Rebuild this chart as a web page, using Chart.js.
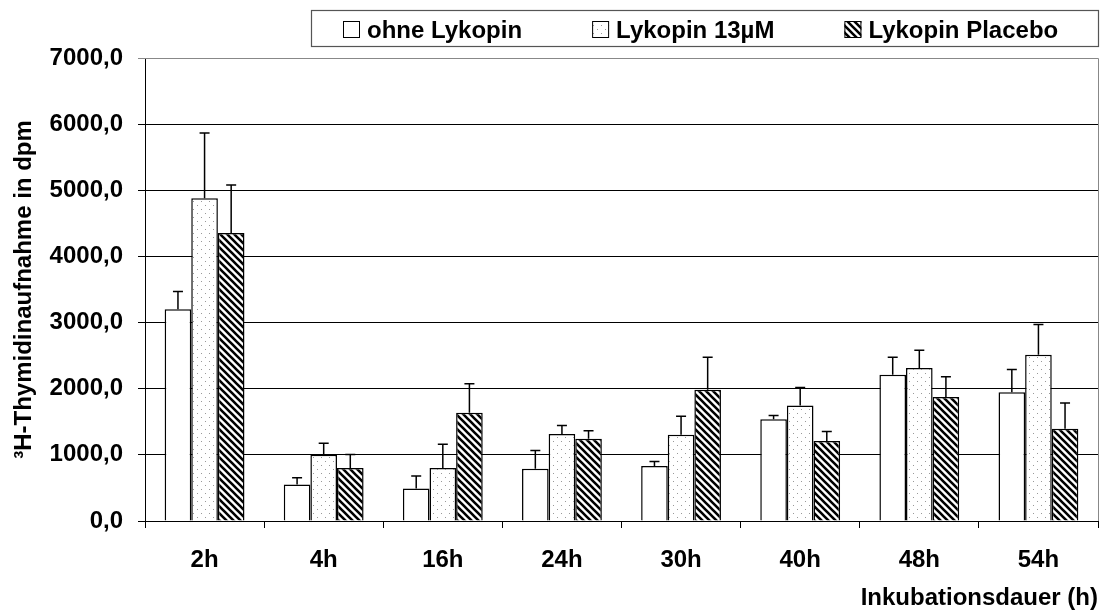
<!DOCTYPE html>
<html>
<head>
<meta charset="utf-8">
<script src="https://cdn.jsdelivr.net/npm/chart.js@4/dist/chart.umd.min.js"></script>
<style>
  html, body { margin: 0; padding: 0; background: #fff; }
  #wrap { width: 1111px; height: 613px; }
</style>
</head>
<body>
<div id="wrap"><canvas id="chart" width="1111" height="613"></canvas></div>
<script>
// data
const categories = ['2h', '4h', '16h', '24h', '30h', '40h', '48h', '54h'];
const seriesNames = ['ohne Lykopin', 'Lykopin 13µM', 'Lykopin Placebo'];
const ohneValues = [3200, 550, 490, 790, 830, 1540, 2210, 1945];
const ohneErr = [270, 105, 190, 275, 70, 55, 265, 345];
const lyk13Values = [4880, 1000, 800, 1315, 1305, 1745, 2315, 2515];
const lyk13Err = [985, 175, 360, 130, 280, 275, 265, 455];
const placeboValues = [4355, 800, 1635, 1245, 1985, 1210, 1875, 1395];
const placeboErr = [725, 205, 440, 120, 490, 145, 305, 390];
const yTicks = [0, 1000, 2000, 3000, 4000, 5000, 6000, 7000];

const FONT = "'Liberation Sans', Arial, sans-serif";
const SIZE = 24;

// fill patterns
function dotPattern() {
  const c = document.createElement('canvas');
  c.width = 8; c.height = 8;
  const g = c.getContext('2d');
  g.fillStyle = '#fff';
  g.fillRect(0, 0, 8, 8);
  g.fillStyle = '#999';
  g.fillRect(1, 1, 1, 1);
  g.fillRect(5, 5, 1, 1);
  return g.createPattern(c, 'repeat');
}

function stripePattern() {
  const s = 7;
  const c = document.createElement('canvas');
  c.width = s; c.height = s;
  const g = c.getContext('2d');
  g.fillStyle = '#fff';
  g.fillRect(0, 0, s, s);
  g.strokeStyle = '#000';
  g.lineWidth = 2.6;
  g.beginPath();
  g.moveTo(-1, -1); g.lineTo(s + 1, s + 1);
  g.moveTo(-1, s - 1); g.lineTo(1, s + 1);
  g.moveTo(s - 1, -1); g.lineTo(s + 1, 1);
  g.stroke();
  return g.createPattern(c, 'repeat');
}

// upward error bars from the bar tops
const errorBars = {
  id: 'errorBars',
  afterDatasetsDraw(chart) {
    const ctx = chart.ctx;
    const y = chart.scales.y;
    ctx.save();
    ctx.strokeStyle = '#000';
    ctx.lineWidth = 1.5;
    chart.data.datasets.forEach((ds, i) => {
      const meta = chart.getDatasetMeta(i);
      meta.data.forEach((bar, j) => {
        const top = y.getPixelForValue(ds.data[j] + ds.errors[j]);
        ctx.beginPath();
        ctx.moveTo(bar.x, bar.y);
        ctx.lineTo(bar.x, top);
        ctx.moveTo(bar.x - 5, top);
        ctx.lineTo(bar.x + 5, top);
        ctx.stroke();
      });
    });
    ctx.restore();
  }
};

// gray frame of the plot area
const plotFrame = {
  id: 'plotFrame',
  beforeDatasetsDraw(chart) {
    const { ctx, chartArea } = chart;
    ctx.save();
    ctx.strokeStyle = '#888';
    ctx.lineWidth = 1;
    ctx.beginPath();
    ctx.moveTo(chartArea.left, chartArea.top + 0.5);
    ctx.lineTo(chartArea.right + 0.5, chartArea.top + 0.5);
    ctx.lineTo(chartArea.right + 0.5, chartArea.bottom);
    ctx.stroke();
    ctx.restore();
  }
};

// boxed legend in the top right corner
const boxLegend = {
  id: 'boxLegend',
  afterDraw(chart) {
    const ctx = chart.ctx;
    const right = chart.chartArea.right;
    ctx.save();
    ctx.strokeStyle = '#555';
    ctx.lineWidth = 1.2;
    ctx.strokeRect(311.5, 10.5, Math.round(right - 311), 36);
    ctx.font = `bold ${SIZE}px ${FONT}`;
    ctx.textBaseline = 'alphabetic';
    let x = 343;
    chart.data.datasets.forEach((ds) => {
      ctx.fillStyle = ds.backgroundColor;
      ctx.fillRect(x, 21, 17, 17);
      ctx.strokeStyle = '#000';
      ctx.lineWidth = 1;
      ctx.strokeRect(x + 0.5, 21.5, 16, 16);
      ctx.fillStyle = '#000';
      ctx.fillText(ds.label, x + 24, 38);
      x += 24 + ctx.measureText(ds.label).width + 70;
    });
    ctx.restore();
  }
};

new Chart(document.getElementById('chart'), {
  type: 'bar',
  data: {
    labels: categories,
    datasets: [
      { label: seriesNames[0], data: ohneValues, errors: ohneErr, backgroundColor: '#fff' },
      { label: seriesNames[1], data: lyk13Values, errors: lyk13Err, backgroundColor: dotPattern() },
      { label: seriesNames[2], data: placeboValues, errors: placeboErr, backgroundColor: stripePattern() }
    ]
  },
  options: {
    responsive: false,
    animation: false,
    layout: { padding: { top: 58, right: 13, bottom: 0, left: 0 } },
    datasets: {
      bar: {
        borderColor: '#000',
        borderWidth: 1.5,
        borderSkipped: 'bottom',
        categoryPercentage: 0.67,
        barPercentage: 1
      }
    },
    plugins: {
      tooltip: { enabled: false },
      legend: { display: false }
    },
    scales: {
      x: {
        grid: { drawOnChartArea: false, color: '#000', tickLength: 7, offset: true },
        border: { color: '#000', width: 1 },
        ticks: { color: '#000', padding: 18, font: { family: FONT, size: SIZE, weight: 'bold' } },
        title: {
          display: true, text: 'Inkubationsdauer (h)', align: 'end', color: '#000',
          font: { family: FONT, size: SIZE, weight: 'bold' }, padding: { top: 3, bottom: 0 }
        },
        afterFit(scale) { scale.height = 92; }
      },
      y: {
        min: 0,
        max: 7000,
        afterBuildTicks(scale) { scale.ticks = yTicks.map(v => ({ value: v })); },
        grid: {
          color: (c) => (c.tick && c.tick.value === 7000 ? '#888' : '#000'),
          lineWidth: 1,
          tickLength: 7
        },
        border: { color: '#000', width: 1 },
        ticks: {
          color: '#000',
          padding: 15,
          font: { family: FONT, size: SIZE, weight: 'bold' },
          callback: (v) => Number(v).toFixed(1).replace('.', ',')
        },
        title: {
          display: true, text: '³H-Thymidinaufnahme in dpm', color: '#000',
          font: { family: FONT, size: SIZE, weight: 'bold' }, padding: { top: 10, bottom: 0 }
        },
        afterFit(scale) { scale.width = 145; }
      }
    }
  },
  plugins: [errorBars, plotFrame, boxLegend]
});
</script>
</body>
</html>
